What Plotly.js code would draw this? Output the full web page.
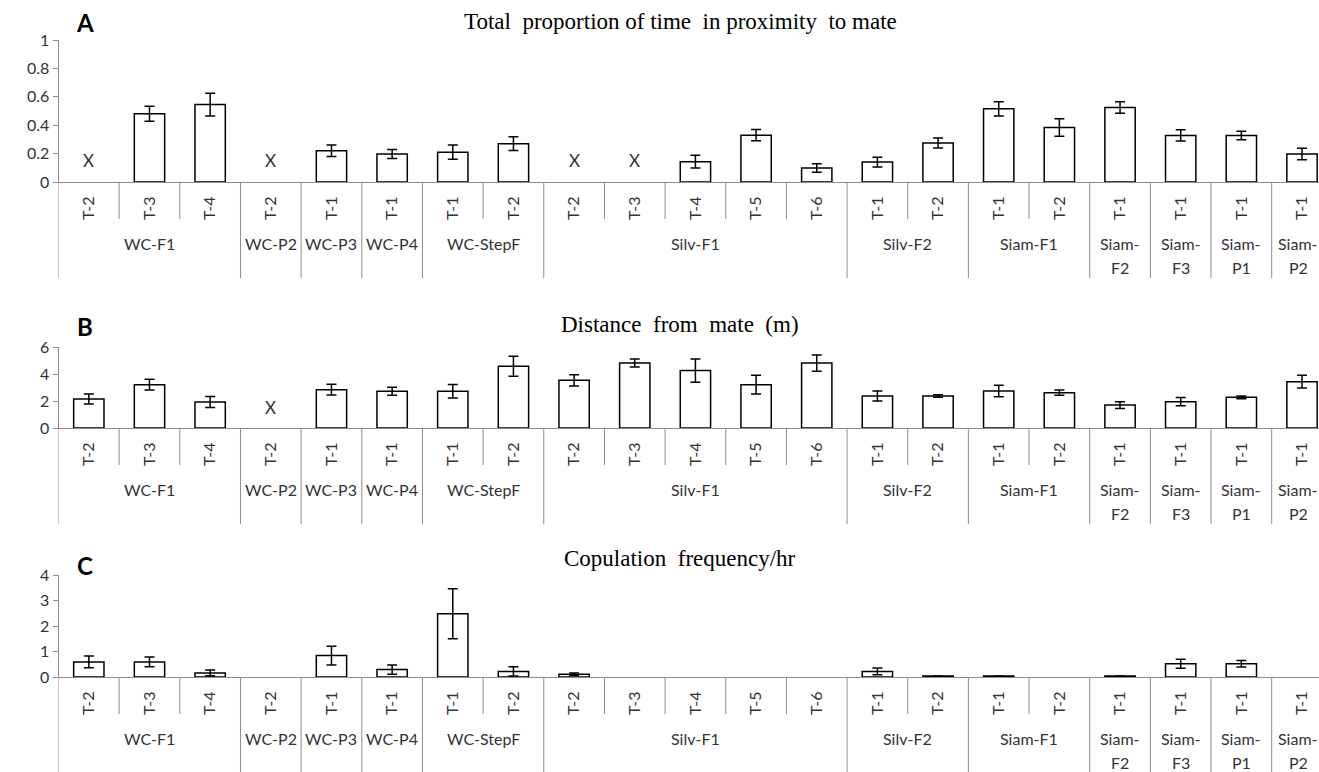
<!DOCTYPE html>
<html><head><meta charset="utf-8">
<script src="https://cdn.plot.ly/plotly-3.0.1.min.js"></script>
<style>html,body{margin:0;padding:0;background:#fff;overflow:hidden}#chart{width:1319px;height:772px}</style>
</head><body><div id="chart"></div>
<script>
// ---- data ----
const groupLabels = ['WC-F1','WC-P2','WC-P3','WC-P4','WC-StepF','Silv-F1','Silv-F2','Siam-F1','Siam-<br>F2','Siam-<br>F3','Siam-<br>P1','Siam-<br>P2'];
const groupSizes = [3,1,1,1,2,5,2,2,1,1,1,1];
const trials = ['T-2','T-3','T-4','T-2','T-1','T-1','T-1','T-2','T-2','T-3','T-4','T-5','T-6','T-1','T-2','T-1','T-2','T-1','T-1','T-1','T-1'];

const proximity    = [null,0.48,0.545,null,0.22,0.197,0.21,0.27,null,null,0.143,0.33,0.098,0.14,0.274,0.515,0.384,0.525,0.328,0.328,0.197];
const proximityErr = [null,0.053,0.08,null,0.04,0.032,0.05,0.048,null,null,0.045,0.04,0.03,0.035,0.035,0.05,0.062,0.04,0.04,0.03,0.04];

const distance     = [2.15,3.21,1.93,null,2.84,2.72,2.72,4.57,3.53,4.81,4.25,3.21,4.81,2.37,2.37,2.74,2.62,1.7,1.95,2.27,3.43];
const distanceErr  = [0.37,0.4,0.41,null,0.4,0.3,0.5,0.74,0.42,0.3,0.86,0.7,0.6,0.37,0.1,0.42,0.2,0.25,0.3,0.1,0.47];

const copulation   = [0.59,0.59,0.16,0,0.84,0.29,2.48,0.22,0.105,0,0,0,0,0.22,0.04,0.04,0,0.04,0.52,0.52,0];
const copulationErr= [0.23,0.19,0.11,null,0.37,0.18,0.98,0.18,0.05,null,null,null,null,0.13,null,null,null,null,0.18,0.13,null];

const panelLetters = ['A','B','C'];
const panelTitles = ['Total\u00a0 proportion of time\u00a0 in proximity\u00a0 to mate','Distance\u00a0 from\u00a0 mate\u00a0 (m)','Copulation\u00a0 frequency/hr'];
const yRanges = [[0,1],[0,6],[0,4]];
const yDticks = [0.2,2,1];

// ---- layout geometry (px) ----
const W = 1319, H = 772;
const py = v => 1 - v / H;
const panels = [
  {top: 40, axis: 182, title: 22, letter: 23, vals: proximity, errs: proximityErr},
  {top: 347, axis: 428, title: 325, letter: 327, vals: distance, errs: distanceErr},
  {top: 575, axis: 677, title: 558, letter: 565, vals: copulation, errs: copulationErr}
];
const idx = trials.map((_, i) => i);
const gray = '#8c8c8c';
const txt = '#333333';
const sans = 'Lato, Roboto, sans-serif';
const serif = '"Liberation Serif", "DejaVu Serif", serif';

const data = [];
const layout = {
  width: W, height: H, margin: {l: 0, r: 0, t: 0, b: 0},
  paper_bgcolor: '#fff', plot_bgcolor: '#fff', showlegend: false,
  shapes: [], annotations: []
};

// group boundary positions
const bounds = [-0.5];
groupSizes.forEach(s => bounds.push(bounds[bounds.length - 1] + s));

panels.forEach((p, k) => {
  const n = k === 0 ? '' : String(k + 1);
  const xa = 'x' + n, ya = 'y' + n;
  // zero values draw no visible bar (as in the reference)
  const shown = p.vals.map(v => v === 0 ? null : v);
  data.push({
    type: 'bar', x: idx, y: shown, xaxis: xa, yaxis: ya, width: 0.5,
    marker: {color: '#ffffff', line: {color: '#000000', width: 1.5}},
    error_y: {type: 'data', array: p.errs, visible: true, color: '#000000', thickness: 1.5, width: 5},
    hoverinfo: 'skip'
  });
  layout['xaxis' + n] = {
    domain: [58.5 / W, 1], range: [-0.5, 20.28], anchor: ya,
    tickmode: 'array', tickvals: idx, ticktext: trials, tickangle: -90,
    ticks: '', ticklabelstandoff: 7,
    tickfont: {family: sans, size: 16, color: txt},
    showline: true, linecolor: gray, linewidth: 1,
    showgrid: false, zeroline: false, fixedrange: true
  };
  layout['yaxis' + n] = {
    domain: [py(p.axis), py(p.top)], range: yRanges[k], dtick: yDticks[k], anchor: xa,
    ticks: 'outside', ticklen: 5, tickcolor: gray,
    tickfont: {family: sans, size: 16, color: txt},
    showline: true, linecolor: gray, linewidth: 1,
    showgrid: false, zeroline: false, fixedrange: true
  };
  // separators
  groupSizes.forEach((s, g) => {
    for (let j = 1; j < s; j++) {
      const xpos = bounds[g] + j;
      layout.shapes.push({type: 'line', xref: xa, yref: 'paper', x0: xpos, x1: xpos,
        y0: py(p.axis), y1: py(p.axis + 37), line: {color: gray, width: 1}});
    }
  });
  bounds.forEach(b => {
    layout.shapes.push({type: 'line', xref: xa, yref: 'paper', x0: b, x1: b,
      y0: py(p.axis), y1: py(p.axis + 96), line: {color: gray, width: 1}});
  });
  // group labels
  groupLabels.forEach((lab, g) => {
    const cx = (bounds[g] + bounds[g + 1]) / 2;
    const last = g === groupLabels.length - 1;
    lab.split('<br>').forEach((line, li) => {
      layout.annotations.push({xref: xa, yref: 'paper', x: cx, y: py(p.axis + 61 + 24 * li),
        text: line, showarrow: false, xanchor: 'center', yanchor: 'middle', xshift: last ? -4 : 0,
        font: {family: sans, size: 16, color: txt}});
    });
  });
  // missing markers
  p.vals.forEach((v, i) => {
    if (v === null) {
      layout.annotations.push({xref: xa, yref: ya + ' domain', x: i, y: 0, yshift: 21,
        text: 'X', showarrow: false, yanchor: 'middle',
        font: {family: sans, size: 17, color: txt}});
    }
  });
  // titles and letters
  layout.annotations.push({xref: 'paper', yref: 'paper', x: 680 / W, y: py(p.title),
    text: panelTitles[k], showarrow: false, xanchor: 'center', yanchor: 'middle',
    font: {family: serif, size: 23, color: '#000'}});
  layout.annotations.push({xref: 'paper', yref: 'paper', x: 85 / W, y: py(p.letter),
    text: '<b>' + panelLetters[k] + '</b>', showarrow: false, xanchor: 'center', yanchor: 'middle',
    font: {family: sans, size: 24, color: '#000'}});
});

Plotly.newPlot('chart', data, layout, {staticPlot: true, displayModeBar: false});
</script></body></html>
